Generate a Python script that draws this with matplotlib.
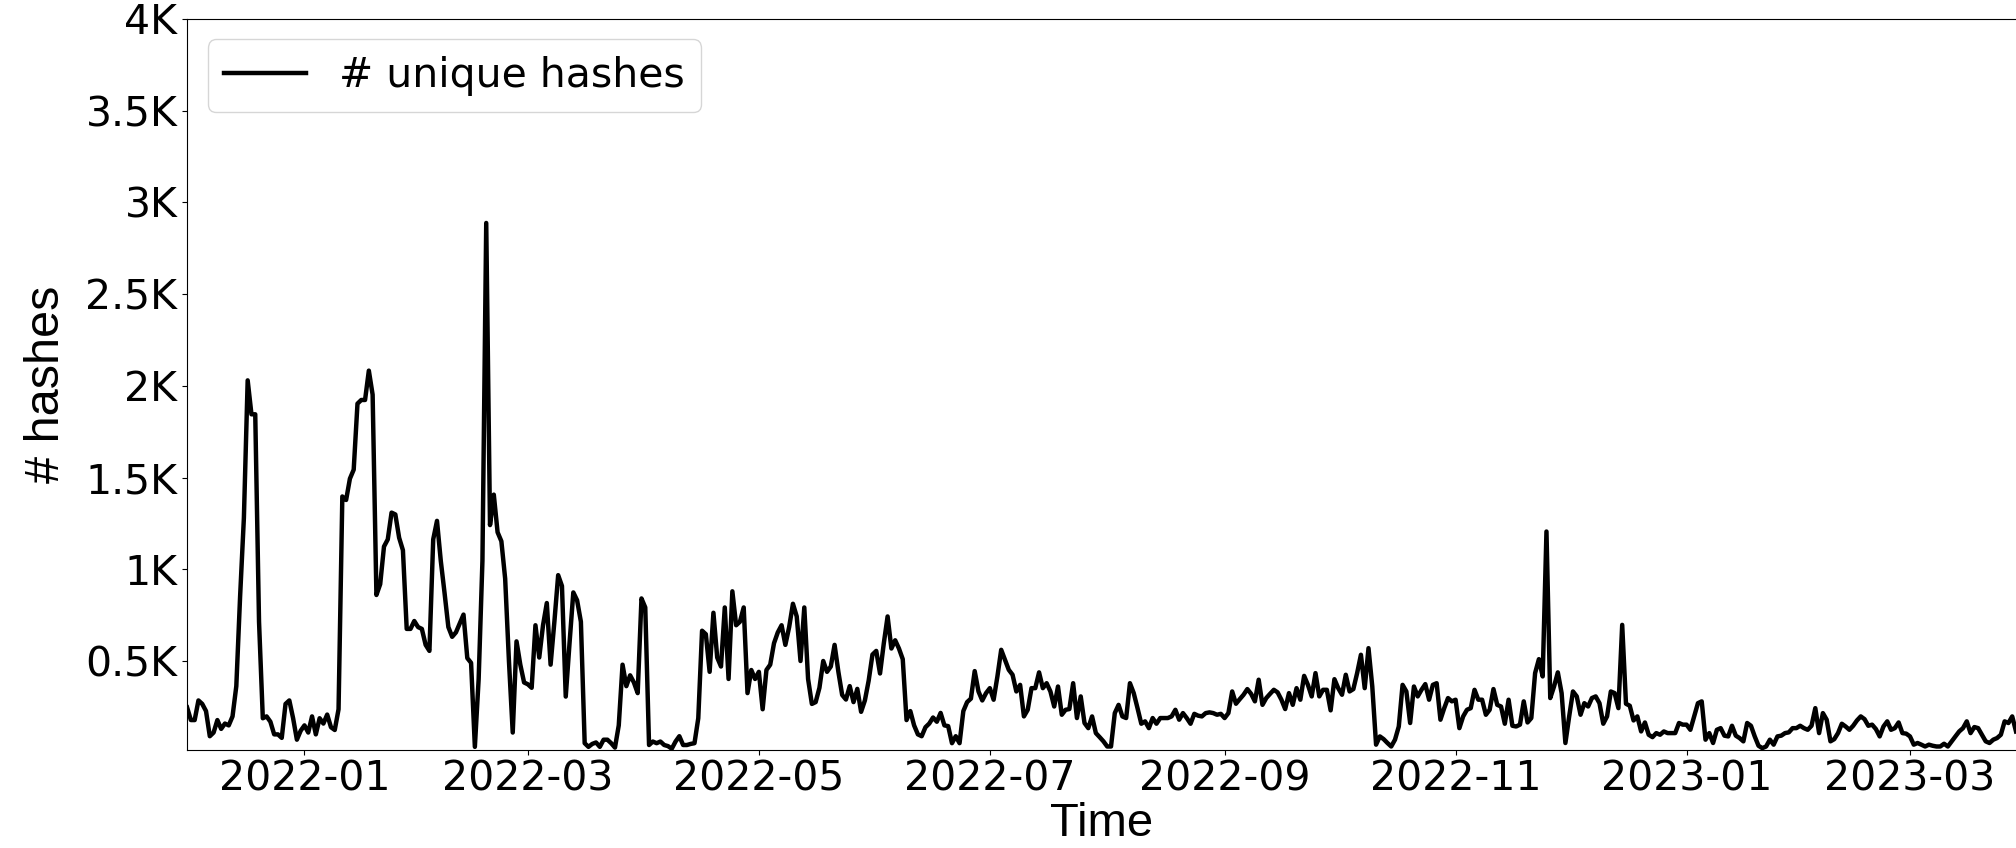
import numpy as np
import pandas as pd
import matplotlib
matplotlib.use("Agg")
import matplotlib.pyplot as plt
from matplotlib.ticker import FuncFormatter, MultipleLocator

start_date = "2021-12-01"

# daily unique hash counts, one list per month
dec21 = [247, 178, 178, 285, 266, 227, 90, 110, 178, 130, 159, 149, 198, 363, 851, 1280,
         2030, 1845, 1845, 714, 188, 198, 169, 100, 100, 81, 266, 285, 188, 71, 120]
jan22 = [149, 110, 198, 100, 188, 159, 208, 139, 124, 237, 1397, 1378, 1494, 1543, 1903, 1923,
         1923, 2083, 1952, 860, 919, 1124, 1163, 1309, 1299, 1172, 1104, 675, 675, 718, 685]
feb22 = [675, 588, 555, 1163, 1264, 1046, 870, 685, 632, 656, 705, 753, 516, 490, 32, 402,
         1046, 2888, 1241, 1407, 1202, 1153, 949, 500, 110, 607, 480, 383]
mar22 = [373, 354, 695, 519, 695, 816, 480, 714, 968, 909, 306, 597, 874, 831, 714, 52,
         32, 48, 56, 32, 71, 71, 52, 28, 149, 480, 363, 422, 383, 325, 841]
apr22 = [792, 42, 61, 52, 61, 42, 36, 22, 61, 90, 42, 42, 48, 52, 188, 665,
         646, 441, 763, 519, 470, 792, 402, 880, 695, 714, 792, 325, 451, 402]
may22 = [441, 237, 451, 480, 597, 656, 695, 588, 685, 812, 743, 500, 792, 402, 266, 276,
         354, 500, 441, 470, 588, 441, 315, 290, 363, 276, 348, 223, 285, 393, 535]
jun22 = [555, 432, 597, 743, 568, 613, 568, 510, 178, 227, 149, 100, 90, 139, 159, 192,
         169, 217, 149, 145, 52, 90, 52, 227, 276, 295, 445, 334, 285, 325]
jul22 = [352, 289, 416, 561, 507, 452, 425, 334, 370, 198, 234, 352, 352, 438, 352, 379,
         334, 252, 361, 207, 234, 238, 379, 189, 307, 162, 134, 198, 107, 85, 62]
aug22 = [34, 34, 216, 261, 198, 189, 379, 325, 243, 158, 171, 134, 189, 158, 189, 189,
         189, 198, 234, 180, 216, 189, 158, 212, 202, 198, 216, 220, 216, 207, 212]
sep22 = [189, 216, 334, 267, 292, 316, 347, 321, 280, 398, 261, 298, 321, 343, 329, 289,
         238, 325, 261, 352, 289, 419, 370, 307, 434, 307, 343, 343, 231, 401]
oct22 = [352, 316, 425, 334, 347, 434, 534, 352, 570, 361, 44, 89, 74, 53, 34, 71,
         143, 370, 334, 162, 361, 307, 343, 374, 289, 370, 379, 180, 243, 298, 280]
nov22 = [289, 134, 198, 234, 243, 343, 289, 289, 207, 234, 347, 261, 252, 158, 289, 147,
         143, 153, 280, 165, 189, 434, 510, 416, 1206, 298, 361, 438, 325, 53]
dec22 = [198, 334, 307, 207, 270, 252, 298, 307, 270, 158, 198, 334, 325, 243, 697, 267,
         256, 176, 198, 116, 165, 98, 85, 107, 98, 116, 107, 107, 107, 162, 153]
jan23 = [153, 125, 198, 270, 280, 71, 107, 53, 125, 134, 93, 89, 147, 93, 80, 62,
         162, 147, 89, 38, 25, 34, 71, 44, 89, 93, 107, 111, 134, 134, 147]
feb23 = [134, 125, 147, 243, 107, 216, 180, 62, 74, 107, 158, 143, 125, 147, 176, 198,
         183, 147, 153, 129, 89, 143, 171, 125, 134, 165, 107, 104]
mar23 = [89, 44, 53, 44, 34, 44, 38, 34, 34, 49, 34, 62, 89, 116, 134, 171,
         107, 140, 134, 98, 62, 53, 71, 80, 98, 171, 162, 198, 116]

counts = np.array(dec21 + jan22 + feb22 + mar22 + apr22 + may22 + jun22 + jul22 +
                  aug22 + sep22 + oct22 + nov22 + dec22 + jan23 + feb23 + mar23)
dates = pd.date_range(start_date, periods=len(counts), freq="D")

fig = plt.figure(figsize=(20.16, 8.48), dpi=100)
ax = fig.add_axes([0.0928, 0.1156, 0.9072, 0.862])

ax.plot(dates, counts, color="black", lw=3.2, label="# unique hashes")

ax.set_xlim(dates[0], dates[-1])
ax.set_ylim(15, 4000)
ax.yaxis.set_major_locator(MultipleLocator(500))
ax.yaxis.set_major_formatter(FuncFormatter(lambda v, p: f"{v / 1000:g}K"))
ax.tick_params(labelsize=29.5)
ax.spines["right"].set_visible(False)

ax.set_xlabel("Time", fontsize=34, family="Liberation Sans", labelpad=2)
ax.set_ylabel("# hashes", fontsize=35, family="Liberation Sans", labelpad=12)
ax.legend(loc="upper left", fontsize=29.5)

fig.savefig("out.png", dpi=100)
